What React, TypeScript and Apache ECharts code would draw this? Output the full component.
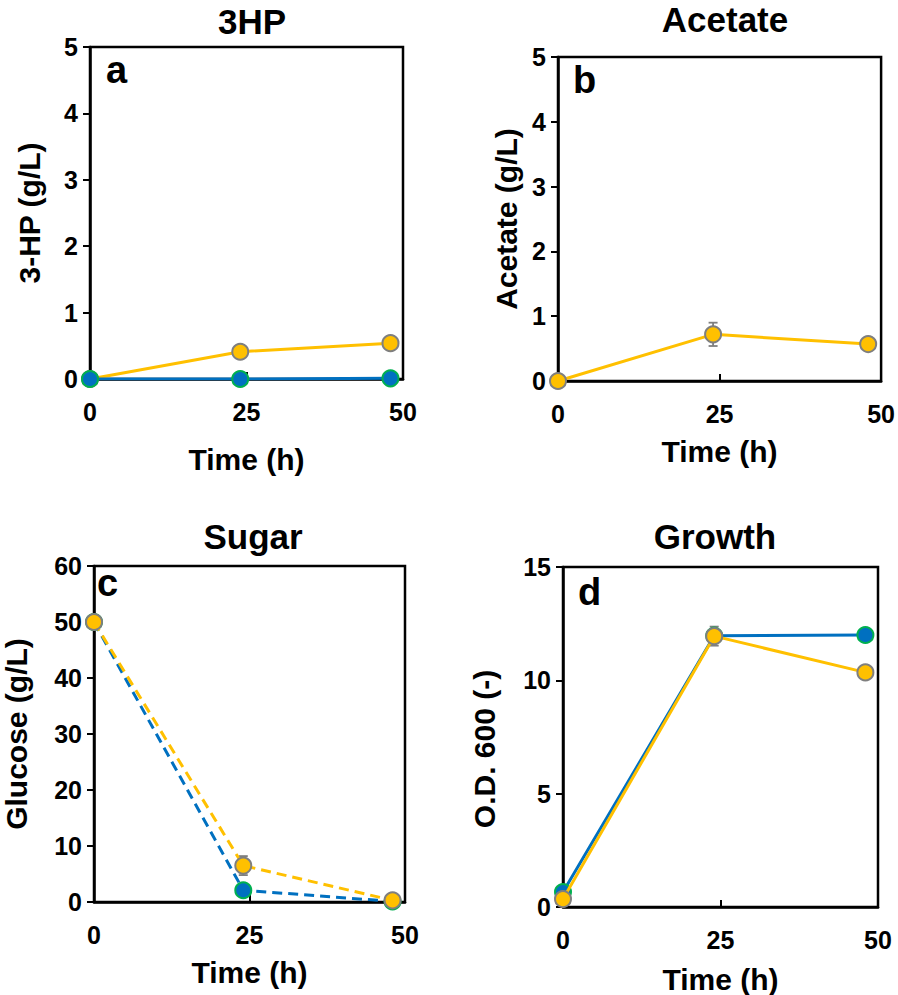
import React, { useEffect, useRef } from "react";
import * as echarts from "echarts";

const timeH = [0, 24, 48];
const xTicks = [0, 25, 50];

const hp3Orange = [0, 0.41, 0.54];
const hp3Blue = [0, 0, 0.01];

const acetateOrange = [0, 0.72, 0.57];
const acetateOrangeErr = [0, 0.18, 0];

const glucoseOrange = [50, 6.5, 0.3];
const glucoseBlue = [50, 2.1, 0.1];
const glucoseOrangeErr = [0, 1.7, 0];

const odBlue = [0.66, 11.97, 12.0];
const odOrange = [0.35, 11.95, 10.35];
const odOrangeErr = [0, 0.42, 0];

const panelTitles = ["3HP", "Acetate", "Sugar", "Growth"];
const panelLetters = ["a", "b", "c", "d"];
const yNames = ["3-HP (g/L)", "Acetate (g/L)", "Glucose (g/L)", "O.D. 600 (-)"];
const yMax = [5, 5, 60, 15];
const yInterval = [1, 1, 10, 5];

const FONT = "'Liberation Sans', Arial, Helvetica, sans-serif";
const ORANGE = "#FFC000";
const BLUE = "#0070C0";
const GRAY = "#7F7F7F";
const GREEN = "#00B050";

const pts = (ys: number[]) => timeH.map((t, i) => [t, ys[i]]);

export default function App() {
  const ref = useRef<HTMLDivElement>(null);
  useEffect(() => {
    if (!ref.current) return;
    const chart = echarts.init(ref.current, null, { renderer: "svg" });

    const grids = [
      { left: 90, top: 47, width: 313, height: 332 },
      { left: 558, top: 57, width: 326, height: 324 },
      { left: 87, top: 566, width: 318, height: 336 },
      { left: 563, top: 567, width: 315, height: 340 },
    ].map((g) => ({ ...g, show: true, borderColor: "#000", borderWidth: 2.5, backgroundColor: "transparent" }));

    const xNameGaps = [65, 55, 55, 57];
    const yNameGaps = [46, 37, 63, 64];
    const yNamePad = [
      [0, 0, 0, 0],
      [0, 0, 0, 0],
      [0, 0, 0, 0],
      [0, 24, 0, 0],
    ];

    const xAxes = grids.map((_, i) => ({
      gridIndex: i,
      type: "value",
      min: xTicks[0],
      max: xTicks[xTicks.length - 1],
      interval: xTicks[1] - xTicks[0],
      name: "Time (h)",
      nameLocation: "middle",
      nameGap: xNameGaps[i],
      nameTextStyle: { fontFamily: FONT, fontWeight: "bold", fontSize: 30, color: "#000" },
      axisLine: { show: true, lineStyle: { color: "#000", width: 2.5 } },
      axisTick: { show: true, inside: true, length: 7, lineStyle: { color: "#000", width: 2 } },
      axisLabel: { fontFamily: FONT, fontWeight: "bold", fontSize: 25, color: "#000", margin: 20 },
      splitLine: { show: false },
    }));

    const yAxes = grids.map((_, i) => ({
      gridIndex: i,
      type: "value",
      min: 0,
      max: yMax[i],
      interval: yInterval[i],
      name: yNames[i],
      nameLocation: "middle",
      nameGap: yNameGaps[i],
      nameTextStyle: {
        fontFamily: FONT,
        fontWeight: "bold",
        fontSize: 30,
        color: "#000",
        padding: yNamePad[i],
      },
      axisLine: { show: true, lineStyle: { color: "#000", width: 2.5 } },
      axisTick: { show: true, inside: false, length: 7, lineStyle: { color: "#000", width: 2 } },
      axisLabel: { fontFamily: FONT, fontWeight: "bold", fontSize: 25, color: "#000", margin: 12 },
      splitLine: { show: false },
    }));

    const lineSeries = (idx: number, ys: number[], kind: "orange" | "blue", dashed = false, z = 3) => ({
      type: "line",
      xAxisIndex: idx,
      yAxisIndex: idx,
      data: pts(ys),
      z,
      symbol: "circle",
      symbolSize: 16,
      showSymbol: true,
      lineStyle: {
        color: kind === "orange" ? ORANGE : BLUE,
        width: 3,
        type: dashed ? [10, 6] : "solid",
      },
      itemStyle: {
        color: kind === "orange" ? ORANGE : BLUE,
        borderColor: kind === "orange" ? GRAY : GREEN,
        borderWidth: 2,
      },
    });

    const errSeries = (idx: number, ys: number[], errs: number[]) => ({
      type: "custom",
      xAxisIndex: idx,
      yAxisIndex: idx,
      z: 2,
      data: timeH
        .map((t, i) => [t, ys[i] - errs[i], ys[i] + errs[i]])
        .filter((_, i) => errs[i] > 0),
      renderItem: (params: any, api: any) => {
        const x = api.value(0);
        const lo = api.coord([x, api.value(1)]);
        const hi = api.coord([x, api.value(2)]);
        const cap = 4.5;
        const style = { stroke: GRAY, lineWidth: 1.8 };
        return {
          type: "group",
          children: [
            { type: "line", shape: { x1: lo[0], y1: lo[1], x2: hi[0], y2: hi[1] }, style },
            { type: "line", shape: { x1: lo[0] - cap, y1: lo[1], x2: lo[0] + cap, y2: lo[1] }, style },
            { type: "line", shape: { x1: hi[0] - cap, y1: hi[1], x2: hi[0] + cap, y2: hi[1] }, style },
          ],
        };
      },
    });

    const series = [
      lineSeries(0, hp3Orange, "orange", false, 3),
      lineSeries(0, hp3Blue, "blue", false, 4),
      errSeries(1, acetateOrange, acetateOrangeErr),
      lineSeries(1, acetateOrange, "orange", false, 3),
      lineSeries(2, glucoseBlue, "blue", true, 3),
      errSeries(2, glucoseOrange, glucoseOrangeErr),
      lineSeries(2, glucoseOrange, "orange", true, 4),
      lineSeries(3, odBlue, "blue", false, 3),
      errSeries(3, odOrange, odOrangeErr),
      lineSeries(3, odOrange, "orange", false, 4),
    ];

    const titlePos = [
      [252, 21],
      [725, 19],
      [253, 536],
      [715, 536],
    ];
    const letterPos = [
      [106, 70],
      [573, 80],
      [97, 583],
      [578, 592],
    ];

    const graphic = [
      ...panelTitles.map((t, i) => ({
        type: "text",
        x: titlePos[i][0],
        y: titlePos[i][1],
        z: 10,
        style: {
          text: t,
          font: `bold 35px ${FONT}`,
          fill: "#000",
          textAlign: "center",
          textVerticalAlign: "middle",
        },
      })),
      ...panelLetters.map((t, i) => ({
        type: "text",
        x: letterPos[i][0],
        y: letterPos[i][1],
        z: 10,
        style: {
          text: t,
          font: `bold 38px ${FONT}`,
          fill: "#000",
          textAlign: "left",
          textVerticalAlign: "middle",
        },
      })),
    ];

    chart.setOption({
      animation: false,
      backgroundColor: "#fff",
      grid: grids,
      xAxis: xAxes,
      yAxis: yAxes,
      series,
      graphic,
    });
    return () => chart.dispose();
  }, []);

  return (
    <div
      ref={ref}
      style={{ position: "absolute", left: 0, top: 0, width: 898, height: 995 }}
    />
  );
}
